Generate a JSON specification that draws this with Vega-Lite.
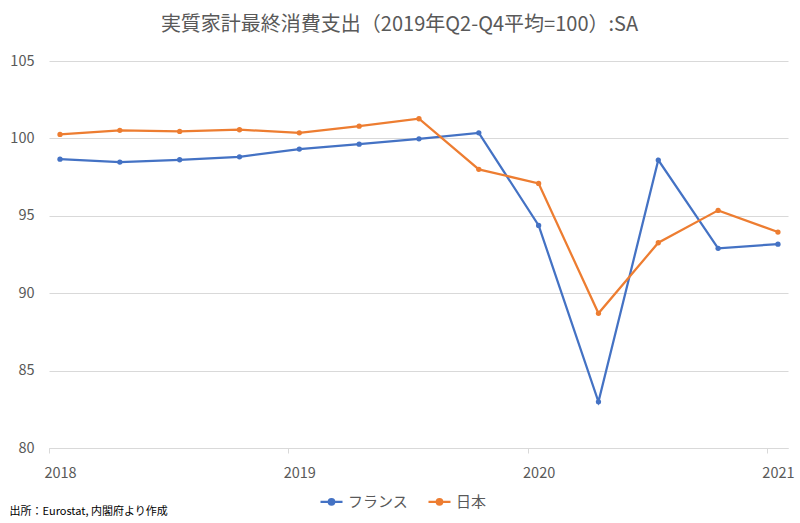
{
  "$schema": "https://vega.github.io/schema/vega-lite/v6.json",
  "width": 739,
  "height": 387,
  "autosize": {"type": "none"},
  "padding": {"left": 49, "top": 61, "right": 12, "bottom": 75},
  "background": "white",
  "config": {
    "font": "Noto Sans CJK JP",
    "view": {"stroke": null}
  },
  "title": {
    "text": "実質家計最終消費支出（2019年Q2-Q4平均=100）:SA",
    "fontSize": 20,
    "fontWeight": "normal",
    "color": "#595959",
    "anchor": "middle",
    "dx": -19,
    "offset": 18
  },
  "data": {
    "values": [
      {"t": 2018.00, "country": "フランス", "v": 98.66},
      {"t": 2018.25, "country": "フランス", "v": 98.47},
      {"t": 2018.50, "country": "フランス", "v": 98.62},
      {"t": 2018.75, "country": "フランス", "v": 98.81},
      {"t": 2019.00, "country": "フランス", "v": 99.31},
      {"t": 2019.25, "country": "フランス", "v": 99.63},
      {"t": 2019.50, "country": "フランス", "v": 99.97},
      {"t": 2019.75, "country": "フランス", "v": 100.36},
      {"t": 2020.00, "country": "フランス", "v": 94.38},
      {"t": 2020.25, "country": "フランス", "v": 82.98},
      {"t": 2020.50, "country": "フランス", "v": 98.60},
      {"t": 2020.75, "country": "フランス", "v": 92.90},
      {"t": 2021.00, "country": "フランス", "v": 93.17},
      {"t": 2018.00, "country": "日本", "v": 100.26},
      {"t": 2018.25, "country": "日本", "v": 100.52},
      {"t": 2018.50, "country": "日本", "v": 100.45},
      {"t": 2018.75, "country": "日本", "v": 100.56},
      {"t": 2019.00, "country": "日本", "v": 100.36},
      {"t": 2019.25, "country": "日本", "v": 100.79},
      {"t": 2019.50, "country": "日本", "v": 101.27},
      {"t": 2019.75, "country": "日本", "v": 98.00},
      {"t": 2020.00, "country": "日本", "v": 97.09},
      {"t": 2020.25, "country": "日本", "v": 88.70},
      {"t": 2020.50, "country": "日本", "v": 93.26},
      {"t": 2020.75, "country": "日本", "v": 95.35},
      {"t": 2021.00, "country": "日本", "v": 93.95}
    ]
  },
  "mark": {
    "type": "line",
    "strokeWidth": 2.25,
    "point": {"filled": true, "size": 28}
  },
  "encoding": {
    "x": {
      "field": "t",
      "type": "quantitative",
      "scale": {"domain": [2017.954, 2021.042], "nice": false, "zero": false},
      "axis": {
        "values": [2018, 2019, 2020, 2021],
        "format": "d",
        "grid": false,
        "domainColor": "#d9d9d9",
        "domainWidth": 1,
        "tickColor": "#d9d9d9",
        "tickSize": 5,
        "tickOffset": -11,
        "labelOffset": 11,
        "labelColor": "#595959",
        "labelFontSize": 14.5,
        "labelPadding": 13,
        "title": "出所：Eurostat, 内閣府より作成",
        "titleFontSize": 11,
        "titleFontWeight": "normal",
        "titleColor": "#000000",
        "titleAnchor": "start",
        "titleAlign": "left",
        "titleBaseline": "middle",
        "titleX": -40,
        "titleY": 63
      }
    },
    "y": {
      "field": "v",
      "type": "quantitative",
      "scale": {"domain": [80, 105], "nice": false, "zero": false},
      "axis": {
        "values": [80, 85, 90, 95, 100, 105],
        "title": null,
        "domain": false,
        "ticks": false,
        "gridColor": "#d9d9d9",
        "gridWidth": 1,
        "labelColor": "#595959",
        "labelFontSize": 14.5,
        "labelPadding": 15
      }
    },
    "color": {
      "field": "country",
      "type": "nominal",
      "sort": ["フランス", "日本"],
      "scale": {"domain": ["フランス", "日本"], "range": ["#4472C4", "#ED7D31"]},
      "legend": {
        "title": null,
        "orient": "none",
        "direction": "horizontal",
        "legendX": 270,
        "legendY": 428,
        "padding": 0,
        "symbolType": "M-1,0H1M0.25,0A0.25,0.25,0,1,1,-0.25,0A0.25,0.25,0,1,1,0.25,0",
        "symbolSize": 484,
        "symbolStrokeWidth": 2.25,
        "labelFontSize": 15,
        "labelColor": "#595959",
        "labelOffset": 4,
        "columnPadding": 15,
        "encode": {
          "symbols": {"update": {"fill": {"scale": "color", "field": "value"}}}
        }
      }
    }
  }
}
